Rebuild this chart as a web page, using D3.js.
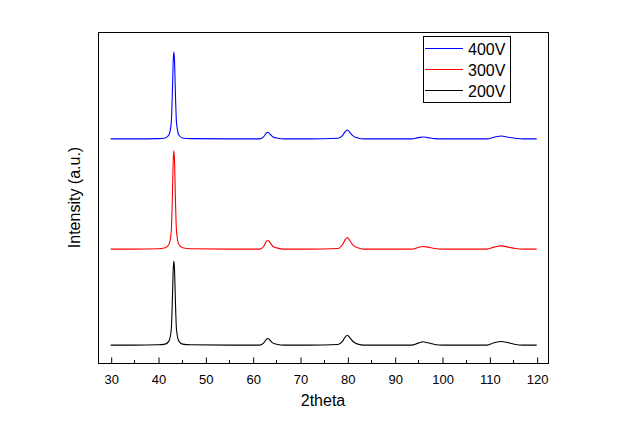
<!DOCTYPE html>
<html>
<head>
<meta charset="utf-8">
<script src="https://cdn.jsdelivr.net/npm/d3@7"></script>
<style>
  body { margin: 0; background: #fff; }
  svg { display: block; }
  text { font-family: "Liberation Sans", Arial, sans-serif; fill: #000; }
</style>
</head>
<body>
<svg width="620" height="434"></svg>
<script>
(function () {

  // 2theta sample positions (degrees)
  var twoTheta = [30, 35, 40, 41.5, 42.3, 42.8, 43.05, 43.2, 43.35, 43.5, 43.65, 43.9, 44.4, 45.2, 47, 55,
    61.5, 62.3, 62.8, 63.2, 63.7, 64.3, 65.3, 66.5, 72,
    78, 79, 79.6, 80.0, 80.5, 81.2, 82.2, 83.5, 90,
    93.5, 95, 96, 97, 98.5, 100, 106,
    109.5, 111, 112.5, 114, 115.5, 117, 120]

  // intensities (a.u., above each curve's own baseline)
  var i200 = [0, 0, 1, 3, 12, 48, 145, 225, 254, 225, 145, 48, 12, 3, 1, 0,
    0, 6, 16, 20, 14, 6, 2, 0, 0,
    2, 12, 26, 30, 23, 11, 3, 0, 0,
    0, 6, 10, 7, 2, 0, 0,
    0, 7, 11, 7, 2, 0, 0]
  var i300 = [0, 0, 1, 4, 14, 55, 168, 262, 298, 262, 168, 55, 14, 4, 1, 0,
    0, 8, 22, 27, 19, 8, 3, 0, 0,
    2, 14, 30, 35, 26, 12, 4, 0, 0,
    0, 5, 8, 6, 2, 0, 0,
    0, 6, 10, 6, 2, 0, 0]
  var i400 = [0, 0, 1, 3, 12, 50, 150, 232, 263, 232, 150, 50, 12, 3, 1, 0,
    0, 6, 16, 20, 14, 6, 2, 0, 0,
    2, 11, 23, 27, 20, 9, 3, 0, 0,
    0, 4, 6, 4, 1, 0, 0,
    0, 5, 9, 5, 2, 0, 0]

  var names = ['400V', '300V', '200V']
  var offsets = [677, 344, 54]
  var colors = ['#0000ff', '#ff0000', '#000000']
  var xTicks = [30, 40, 50, 60, 70, 80, 90, 100, 110, 120]

  var series = [
    { name: names[0], offset: offsets[0], color: colors[0], values: i400 },
    { name: names[1], offset: offsets[1], color: colors[1], values: i300 },
    { name: names[2], offset: offsets[2], color: colors[2], values: i200 }
  ]

  var left = 98, right = 548, top = 32, bottom = 363

  var xScale = d3.scaleLinear().domain([27.32, 122.39]).range([left, right])
  var yScale = d3.scaleLinear().domain([0, 1000]).range([bottom, top])

  var svg = d3.select('svg')

  var line = d3.line()
    .x(function (d) { return xScale(d.x) })
    .y(function (d) { return yScale(d.y) })
    .curve(d3.curveMonotoneX)

  // the three patterns, drawn back to front
  svg.selectAll('path.trace')
    .data(series.slice().reverse())
    .enter().append('path')
    .attr('class', 'trace')
    .attr('fill', 'none')
    .attr('stroke', function (d) { return d.color })
    .attr('stroke-width', 1.1)
    .attr('d', function (s) {
      return line(twoTheta.map(function (t, i) {
        return { x: t, y: s.offset + s.values[i] }
      }))
    })

  // frame
  svg.append('rect')
    .attr('x', left + 0.5)
    .attr('y', top + 0.5)
    .attr('width', right - left)
    .attr('height', bottom - top)
    .attr('fill', 'none')
    .attr('stroke', '#000')
    .attr('stroke-width', 1)

  // bottom axis, ticks point inward
  var xAxis = d3.axisBottom(xScale)
    .tickValues(xTicks)
    .tickSizeInner(-6)
    .tickSizeOuter(0)
    .tickPadding(11)
    .tickFormat(d3.format('d'))

  var gx = svg.append('g')
    .attr('transform', 'translate(0.5,' + (bottom + 0.5) + ')')
    .call(xAxis)
  gx.select('.domain').remove()
  gx.selectAll('text')
    .style('font-size', '13px')
    .style('font-family', '"Liberation Sans", Arial, sans-serif')

  // minor ticks
  var minor = xTicks.slice(0, -1).map(function (t) { return t + 5 })
  svg.selectAll('line.minor')
    .data(minor)
    .enter().append('line')
    .attr('class', 'minor')
    .attr('x1', function (d) { return Math.round(xScale(d)) + 0.5 })
    .attr('x2', function (d) { return Math.round(xScale(d)) + 0.5 })
    .attr('y1', bottom + 0.5)
    .attr('y2', bottom - 3)
    .attr('stroke', '#000')

  // axis titles
  svg.append('text')
    .attr('x', (left + right) / 2)
    .attr('y', 406)
    .attr('text-anchor', 'middle')
    .style('font-size', '16px')
    .text('2theta')

  svg.append('text')
    .attr('transform', 'translate(80,' + ((top + bottom) / 2) + ') rotate(-90)')
    .attr('text-anchor', 'middle')
    .style('font-size', '16px')
    .text('Intensity (a.u.)')

  // legend
  var legend = svg.append('g')
  legend.append('rect')
    .attr('x', 423.5)
    .attr('y', 36.5)
    .attr('width', 87)
    .attr('height', 66)
    .attr('fill', '#fff')
    .attr('stroke', '#000')

  var rows = legend.selectAll('g.row')
    .data(series)
    .enter().append('g')
    .attr('class', 'row')
    .attr('transform', function (d, i) { return 'translate(0,' + (48.5 + i * 21) + ')' })

  rows.append('line')
    .attr('x1', 425)
    .attr('x2', 463)
    .attr('stroke', function (d) { return d.color })
    .attr('stroke-width', 1)

  rows.append('text')
    .attr('x', 468)
    .attr('y', 6)
    .style('font-size', '16px')
    .text(function (d) { return d.name })

})()
</script>
</body>
</html>
